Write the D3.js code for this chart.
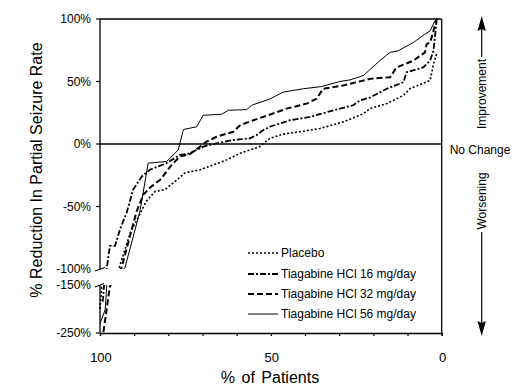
<!DOCTYPE html>
<html lang="en">
<head>
    <meta charset="UTF-8">
    <title>Tiagabine response curves</title>
    <script src="https://d3js.org/d3.v7.min.js"></script>
    <style>
        body { margin: 0; background: #fff; font-family: Arial, "Liberation Sans", sans-serif; }
        svg text { fill: #000; }
    </style>
</head>
<body>
    <div id="chart"></div>

    <script>
        // data: [% of patients, % reduction in partial seizure rate]
        const placebo = [
            [100, -200], [99.5, -155], [94.5, -100], [91, -70], [88.5, -57], [86.5, -46],
            [83.9, -38], [81, -36.5], [77.6, -29], [75.1, -23], [70.7, -20.6],
            [66.8, -16.7], [62.9, -12.7], [59, -7.4], [53.2, -2.1], [50.3, 4.5], [46.4, 7.9],
            [41.5, 9.8], [35.6, 12.4], [28.8, 17.7], [22.9, 24.3], [21, 28.3], [16.1, 32.3],
            [11.2, 38.9], [9.3, 44.2], [3.4, 50.8], [2.4, 64], [1.5, 72]
        ];
        const tg16 = [
            [99.2, -185], [98.8, -150], [98, -99], [97.1, -81.5], [95.6, -81.5], [94.1, -68],
            [92.2, -55], [90.3, -36.5], [87.8, -26], [85.4, -20.6], [80.5, -15.3], [76.6, -8.7],
            [73.7, -7.5], [69.8, -2.1], [65.9, 0.5], [61, 3.2], [56.1, 4.5], [54.2, 7.1],
            [52.2, 11.1], [50.3, 13.8], [44.4, 19], [38.5, 21.7], [31.6, 27], [25.9, 31],
            [23.9, 34.9], [21, 37.1], [16.1, 44.2], [11.2, 49.4], [10.3, 57.4], [5.4, 61.3],
            [3.4, 66.7], [2.4, 74.6], [2, 85.2], [1.5, 98.4]
        ];
        const tg32 = [
            [99, -248], [97.1, -153], [93.7, -99], [89.3, -54], [87.3, -40.5], [85.4, -35],
            [82.4, -28.6], [79, -16.7], [76.6, -10], [73.7, -8], [70.7, -2.1],
            [68.8, 1.9], [65.9, 5.8], [61, 9.8], [59, 15], [55.1, 19], [50.3, 23.5], [45.4, 28.3],
            [39.5, 32.3], [36.6, 36.3], [34.7, 44.2], [28.8, 46.8], [21, 52.1], [15.1, 53.4],
            [13.2, 61.3], [8.3, 66.7], [4.9, 73.3], [4.4, 79.9], [3.4, 81.2], [2.4, 90.5],
            [1.7, 98.4], [1.3, 100]
        ];
        const tg56 = [
            [100, -230], [98.5, -202], [98, -150], [92.7, -99], [88.3, -53.7], [85.9, -15.3],
            [80.5, -14], [77.1, -4.8], [75.6, 11.6], [71.7, 13.8], [69.8, 23], [64.4, 23.8],
            [62.4, 27], [57.1, 27.5], [55.6, 31], [50.3, 36], [46.4, 41.5], [40.5, 44.2],
            [35.1, 46], [29.8, 50], [26.8, 51.3], [22.9, 54.8], [18.1, 66.7], [15.1, 73.3],
            [12.7, 74.6], [8.3, 81.2], [4.9, 87.9], [3.4, 90.5], [2, 98.4], [1.3, 100]
        ];

        const seriesNames = ["Placebo", "Tiagabine HCl 16 mg/day", "Tiagabine HCl 32 mg/day", "Tiagabine HCl 56 mg/day"];
        const yTicksUpper = [100, 50, 0, -50, -100];
        const yTicksLower = [-150, -250];
        const xTicks = [100, 90, 80, 70, 60, 50, 40, 30, 20, 10, 0];
        const xTickLabels = [100, 50, 0];

        const width = 515;
        const height = 391;

        const x = d3.scaleLinear().domain([100, 0]).range([100, 441.7]);
        // broken axis: -250..-150 squeezed below the gap, -100..100 above it
        const y = d3.scaleLinear().domain([-250, -150, -100, 100]).range([333, 285, 269, 19]);

        const styles = [
            { dash: "2,2", w: 1.6 },
            { dash: "6,2,2,2", w: 1.8 },
            { dash: "6,3", w: 2 },
            { dash: null, w: 1 }
        ];
        const series = [placebo, tg16, tg32, tg56];

        const svg = d3.select("#chart").append("svg")
            .attr("width", width)
            .attr("height", height);

        const defs = svg.append("defs");
        defs.append("clipPath").attr("id", "clip-up")
            .append("rect").attr("x", 99).attr("y", y(100) - 2).attr("width", 344).attr("height", y(-100) - y(100) + 2);
        defs.append("clipPath").attr("id", "clip-low")
            .append("rect").attr("x", 99).attr("y", y(-150)).attr("width", 344).attr("height", y(-250) - y(-150));

        // frame
        const frame = svg.append("g").attr("stroke", "#000").attr("fill", "none");
        frame.append("line").attr("x1", x(100)).attr("x2", x(0)).attr("y1", y(100)).attr("y2", y(100)).attr("stroke-width", 1.3);
        frame.append("line").attr("x1", x(0)).attr("x2", x(0)).attr("y1", y(100)).attr("y2", y(-250)).attr("stroke-width", 1.3);
        frame.append("line").attr("x1", x(100)).attr("x2", x(0)).attr("y1", y(0)).attr("y2", y(0)).attr("stroke-width", 1.3);
        frame.append("line").attr("x1", x(100)).attr("x2", x(100)).attr("y1", y(100)).attr("y2", y(-100)).attr("stroke-width", 1.3);
        frame.append("line").attr("x1", x(100)).attr("x2", x(100)).attr("y1", y(-150)).attr("y2", y(-250)).attr("stroke-width", 1.3);
        // break marks
        frame.append("line").attr("x1", 95).attr("y1", y(-100) + 2).attr("x2", 105).attr("y2", y(-100) - 1.5).attr("stroke-width", 1.2);
        frame.append("line").attr("x1", 95).attr("y1", y(-150) + 2).attr("x2", 104).attr("y2", y(-150) - 1.5).attr("stroke-width", 1.2);

        // x axis
        const xAxis = svg.append("g")
            .attr("transform", `translate(0,${y(-250)})`)
            .call(d3.axisBottom(x).tickValues(xTicks).tickSize(3).tickFormat(""));
        xAxis.select(".domain").attr("stroke-width", 1.3);
        xAxis.selectAll(".tick line").attr("stroke-width", 1.2);

        svg.append("g").selectAll("text")
            .data(xTickLabels)
            .join("text")
            .attr("x", d => x(d) + 1)
            .attr("y", 362)
            .attr("text-anchor", "middle")
            .attr("font-size", 13)
            .text(d => d);

        // y axis ticks + labels
        const yTicks = yTicksUpper.concat(yTicksLower);
        svg.append("g").selectAll("line")
            .data(yTicks.filter(d => d !== -100 && d !== -150))
            .join("line")
            .attr("x1", x(100) - 4).attr("x2", x(100))
            .attr("y1", d => y(d)).attr("y2", d => y(d))
            .attr("stroke", "#000").attr("stroke-width", 1.2);

        svg.append("g").selectAll("text")
            .data(yTicks)
            .join("text")
            .attr("x", 91)
            .attr("y", d => y(d))
            .attr("dy", "0.35em")
            .attr("text-anchor", "end")
            .attr("font-size", 12)
            .text(d => d + "%");

        // curves
        const line = d3.line().x(d => x(d[0])).y(d => y(d[1]));
        ["clip-up", "clip-low"].forEach(c => {
            svg.append("g")
                .attr("clip-path", `url(#${c})`)
                .selectAll("path")
                .data(series)
                .join("path")
                .attr("d", line)
                .attr("fill", "none")
                .attr("stroke", "#000")
                .attr("stroke-width", (d, i) => styles[i].w)
                .attr("stroke-dasharray", (d, i) => styles[i].dash);
        });

        // legend
        const legendY = [253, 274, 294, 314];
        const legend = svg.append("g");
        legend.selectAll("line")
            .data(seriesNames)
            .join("line")
            .attr("x1", 248).attr("x2", 278)
            .attr("y1", (d, i) => legendY[i]).attr("y2", (d, i) => legendY[i])
            .attr("stroke", "#000")
            .attr("stroke-width", (d, i) => styles[i].w)
            .attr("stroke-dasharray", (d, i) => styles[i].dash);
        legend.selectAll("text")
            .data(seriesNames)
            .join("text")
            .attr("x", 281)
            .attr("y", (d, i) => legendY[i])
            .attr("dy", "0.35em")
            .attr("font-size", 12)
            .text(d => d);

        // axis titles
        svg.append("text")
            .attr("x", 270).attr("y", 383)
            .attr("text-anchor", "middle")
            .attr("font-size", 16)
            .attr("word-spacing", 2)
            .text("% of Patients");

        svg.append("text")
            .attr("transform", "translate(42,170) rotate(-90)")
            .attr("text-anchor", "middle")
            .attr("font-size", 16)
            .text("% Reduction In Partial Seizure Rate");

        // right side annotations
        const ann = svg.append("g");
        ann.append("text")
            .attr("transform", "translate(486,94) rotate(-90)")
            .attr("text-anchor", "middle").attr("font-size", 12)
            .text("Improvement");
        ann.append("text")
            .attr("x", 480).attr("y", 154)
            .attr("text-anchor", "middle").attr("font-size", 12)
            .text("No Change");
        ann.append("text")
            .attr("transform", "translate(486,201) rotate(-90)")
            .attr("text-anchor", "middle").attr("font-size", 12)
            .text("Worsening");

        ann.append("line").attr("x1", 481.7).attr("x2", 481.7).attr("y1", 57).attr("y2", 28).attr("stroke", "#000").attr("stroke-width", 1.2);
        ann.append("path").attr("d", "M481.7,16 L477.5,31 L481.7,29 L485.9,31 Z").attr("fill", "#000");
        ann.append("line").attr("x1", 481.7).attr("x2", 481.7).attr("y1", 232).attr("y2", 324).attr("stroke", "#000").attr("stroke-width", 1.2);
        ann.append("path").attr("d", "M481.7,336 L477.5,321 L481.7,323 L485.9,321 Z").attr("fill", "#000");
    </script>
</body>
</html>
